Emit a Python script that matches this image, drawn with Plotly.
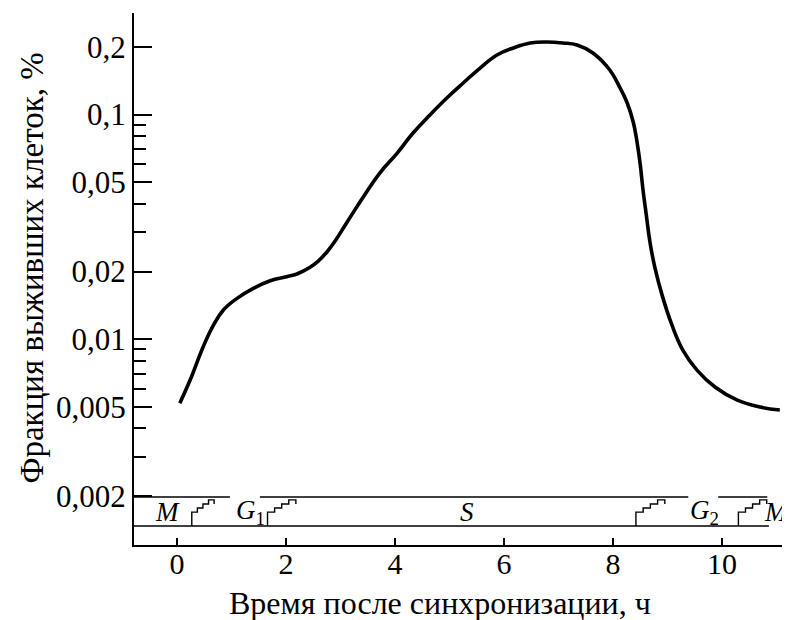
import plotly.graph_objects as go

# ---- data ----
time_h = [0.05, 0.24, 0.48, 0.67, 0.85, 1.10, 1.40, 1.71, 2.01, 2.20, 2.44, 2.59, 2.75,
          2.90, 3.11, 3.42, 3.72, 4.04, 4.33, 4.64, 4.95, 5.25, 5.56, 5.87, 6.17, 6.48,
          6.79, 7.08, 7.34, 7.63, 7.94, 8.13, 8.26, 8.37, 8.44, 8.50, 8.55, 8.61, 8.68,
          8.77, 8.90, 9.08, 9.28, 9.54, 9.87, 10.28, 10.70, 11.06]
survival = [0.00518, 0.00657, 0.00925, 0.01156, 0.01348, 0.01519, 0.01684, 0.0182,
            0.01896, 0.0195, 0.02088, 0.02226, 0.02444, 0.02734, 0.0329, 0.0431,
            0.0549, 0.0674, 0.0828, 0.0996, 0.1185, 0.1382, 0.1612, 0.1842,
            0.198, 0.2084, 0.2105, 0.2084, 0.2041, 0.1881, 0.158, 0.1313, 0.1126,
            0.0927, 0.0755, 0.0596, 0.0461, 0.0357, 0.0268, 0.0207, 0.0157, 0.01156,
            0.00894, 0.00728, 0.00612, 0.00535, 0.00498, 0.00483]

y_tickvals = [0.002, 0.005, 0.01, 0.02, 0.05, 0.1, 0.2]
y_ticktext = ["0,002", "0,005", "0,01", "0,02", "0,05", "0,1", "0,2"]
y_minor = [0.003, 0.004, 0.006, 0.007, 0.008, 0.009,
           0.03, 0.04, 0.06, 0.07, 0.08, 0.09]
x_tickvals = [0, 2, 4, 6, 8, 10]

# cell-cycle phases (hours)
phase_labels = ["<i>M</i>", "<i>G</i><sub>1</sub>", "<i>S</i>", "<i>G</i><sub>2</sub>", "<i>M</i>"]
phase_centers = [-0.17, 1.34, 5.32, 9.67, 11.0]
transition_start = [0.27, 1.66, 8.42, 10.30]
transition_end = [0.68, 2.18, 8.95, 10.82]
top_line_segments = [(-0.79, 0.97), (1.52, 9.38), (9.93, 10.83)]
bottom_line = (-0.79, 10.86)

X_RANGE = [-0.79, 11.1]
FONT = "Liberation Serif, Times New Roman, serif"

fig = go.Figure()

# main curve
fig.add_trace(go.Scatter(
    x=time_h, y=survival, mode="lines",
    line=dict(color="black", width=3.6, shape="spline", smoothing=1.2),
    showlegend=False, hoverinfo="skip"))

# cell cycle band (on a hidden linear axis: 0 = lower line, 1 = upper line)
bx, by = [], []
for a, b in top_line_segments:
    bx += [a, b, None]
    by += [1, 1, None]
bx += [bottom_line[0], bottom_line[1], None]
by += [0, 0, None]
fig.add_trace(go.Scatter(x=bx, y=by, yaxis="y2", mode="lines",
                         line=dict(color="black", width=1.6),
                         showlegend=False, hoverinfo="skip"))

sx, sy = [], []
levels = [0.48, 0.62, 0.76, 0.90]
for a, b in zip(transition_start, transition_end):
    w = b - a
    xs = [a, a]
    ys = [0, levels[0]]
    for i in range(1, len(levels)):
        xs += [a + w * i / len(levels), a + w * i / len(levels)]
        ys += [levels[i - 1], levels[i]]
    xs += [b, b]
    ys += [levels[-1], levels[-1] - 0.14]
    sx += xs + [None]
    sy += ys + [None]
fig.add_trace(go.Scatter(x=sx, y=sy, yaxis="y2", mode="lines",
                         line=dict(color="black", width=1.4),
                         showlegend=False, hoverinfo="skip"))

for lab, xc in zip(phase_labels, phase_centers):
    fig.add_annotation(x=xc, y=0.5, xref="x", yref="y2", text=lab, showarrow=False,
                       xanchor="center", yanchor="middle",
                       font=dict(family=FONT, size=27, color="black"))

# axis titles
fig.add_annotation(x=0.472, y=-0.109, xref="paper", yref="paper",
                   text="Время после синхронизации, ч", showarrow=False,
                   xanchor="center", yanchor="middle",
                   font=dict(family=FONT, size=32, color="black"))
fig.add_annotation(x=-0.157, y=0.52, xref="paper", yref="paper",
                   text="Фракция выживших клеток, %", showarrow=False, textangle=-90,
                   xanchor="center", yanchor="middle",
                   font=dict(family=FONT, size=33, color="black"))

fig.update_layout(
    width=782, height=612,
    margin=dict(l=126, r=8, t=5, b=75),
    paper_bgcolor="white", plot_bgcolor="white",
    font=dict(family=FONT, size=30, color="black"),
    xaxis=dict(range=X_RANGE, tickvals=x_tickvals, ticks="inside", ticklen=7,
               tickwidth=1.5, tickcolor="black", showline=True, linecolor="black",
               linewidth=2, showgrid=False, zeroline=False, mirror=False,
               tickfont=dict(size=30), automargin=False, ticklabelstandoff=-9),
    yaxis=dict(type="log", range=[-2.917, -0.5476], tickvals=y_tickvals,
               ticktext=y_ticktext, ticks="inside", ticklen=18, tickwidth=1.5,
               tickcolor="black", showline=True, linecolor="black", linewidth=2,
               showgrid=False, zeroline=False, mirror=False, tickfont=dict(size=31),
               automargin=False,
               minor=dict(tickvals=y_minor, ticks="inside", ticklen=12,
                          tickwidth=1.5, tickcolor="black", showgrid=False)),
    yaxis2=dict(overlaying="y", range=[-0.655, 17.69], visible=False),
)

fig.write_html("out.html")
